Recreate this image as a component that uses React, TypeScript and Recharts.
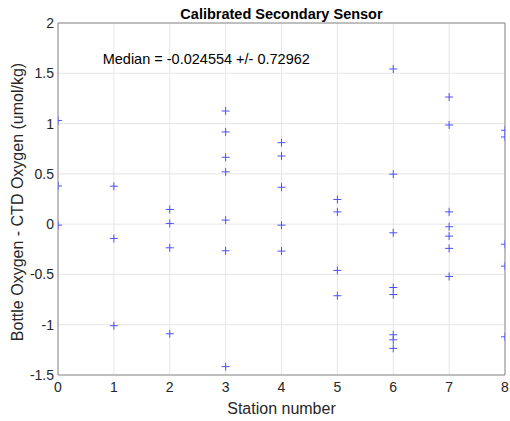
import React from 'react';
import { ScatterChart, Scatter, XAxis, YAxis, CartesianGrid, ReferenceDot } from 'recharts';

const stations = [0, 1, 2, 3, 4, 5, 6, 7, 8];
const station0 = [1.03, 0.38, -0.01];
const station1 = [0.377, -0.142, -1.01];
const station2 = [0.146, 0.007, -0.235, -1.09];
const station3 = [1.125, 0.917, 0.665, 0.52, 0.04, -0.265, -1.417];
const station4 = [0.81, 0.678, 0.367, -0.01, -0.268];
const station5 = [0.245, 0.122, -0.46, -0.712];
const station6 = [1.543, 0.497, -0.086, -0.63, -0.7, -1.1, -1.15, -1.235];
const station7 = [1.264, 0.986, 0.122, -0.026, -0.119, -0.241, -0.52];
const station8 = [0.933, 0.867, -0.2, -0.417, -1.12];
const stationValues = [station0, station1, station2, station3, station4, station5, station6, station7, station8];

const xTicks = [0, 1, 2, 3, 4, 5, 6, 7, 8];
const yTicks = [-1.5, -1, -0.5, 0, 0.5, 1, 1.5, 2];

const titleText = 'Calibrated Secondary Sensor';
const medianText = 'Median = -0.024554 +/- 0.72962';
const xLabel = 'Station number';
const yLabel = 'Bottle Oxygen - CTD Oxygen (umol/kg)';

const data = stations.flatMap((s, i) => stationValues[i].map((v) => ({ x: s, y: v })));

const FONT = '"Liberation Sans", Arial, Helvetica, sans-serif';
const AXIS = '#8a8a8a';
const TXT = '#262626';
const MARK = '#4f4fff';

const Plus = (props: any) => {
  const { cx, cy } = props;
  if (cx == null || cy == null) return null;
  return (
    <g>
      <line x1={cx - 4} y1={cy} x2={cx + 4} y2={cy} stroke={MARK} strokeWidth={1} />
      <line x1={cx} y1={cy - 4} x2={cx} y2={cy + 4} stroke={MARK} strokeWidth={1} />
    </g>
  );
};

const YLabel = (props: any) => {
  const vb = props.viewBox || {};
  const cy = (vb.y || 0) + (vb.height || 0) / 2 + 3;
  return (
    <text x={17} y={cy} transform={`rotate(-90, 17, ${cy})`} textAnchor="middle" dominantBaseline="central"
      fill={TXT} fontSize={16} fontFamily={FONT}>{yLabel}</text>
  );
};

export default function App() {
  const tickStyle = { fill: TXT, fontSize: 14, fontFamily: FONT };
  return (
    <div style={{ position: 'absolute', left: 0, top: 0, width: 510, height: 421, background: '#fff', fontFamily: FONT }}>
      <div style={{ position: 'absolute', left: 58, width: 447, top: 5, textAlign: 'center', fontWeight: 'bold', fontSize: 14.5, color: '#000', lineHeight: '18px' }}>
        {titleText}
      </div>
      <ScatterChart width={510} height={421} margin={{ top: 23, right: 5, bottom: 0, left: 0 }}>
        <CartesianGrid stroke="#e6e6e6" strokeWidth={1} />
        <XAxis type="number" dataKey="x" domain={[0, 8]} ticks={xTicks} allowDataOverflow interval={0}
          height={46} tickSize={0} tickMargin={7} tickLine={false} axisLine={{ stroke: AXIS }} tick={tickStyle}
          label={{ value: xLabel, position: 'insideBottom', offset: 7, fill: TXT, fontSize: 16, fontFamily: FONT }} />
        <XAxis xAxisId="bm" type="number" domain={[0, 8]} ticks={xTicks} allowDataOverflow interval={0}
          mirror tick={false} tickSize={5} tickLine={{ stroke: AXIS }} axisLine={false} />
        <XAxis xAxisId="t" orientation="top" type="number" domain={[0, 8]} ticks={xTicks} allowDataOverflow interval={0}
          mirror tick={false} tickSize={5} tickLine={{ stroke: AXIS }} axisLine={{ stroke: AXIS }} />
        <YAxis type="number" dataKey="y" domain={[-1.5, 2]} ticks={yTicks} allowDataOverflow interval={0}
          width={58} tickSize={0} tickMargin={4} tickLine={false} axisLine={{ stroke: AXIS }} tick={tickStyle}
          label={<YLabel />} />
        <YAxis yAxisId="lm" type="number" domain={[-1.5, 2]} ticks={yTicks} allowDataOverflow interval={0}
          mirror tick={false} tickSize={5} tickLine={{ stroke: AXIS }} axisLine={false} />
        <YAxis yAxisId="r" orientation="right" type="number" domain={[-1.5, 2]} ticks={yTicks} allowDataOverflow interval={0}
          mirror tick={false} tickSize={5} tickLine={{ stroke: AXIS }} axisLine={{ stroke: AXIS }} />
        <Scatter data={data} shape={<Plus />} isAnimationActive={false} />
        <ReferenceDot x={0.8} y={1.645} r={0} fill="none" stroke="none"
          label={{ value: medianText, position: 'right', offset: 0, fill: '#000', fontSize: 14.5, fontFamily: FONT }} />
      </ScatterChart>
    </div>
  );
}
